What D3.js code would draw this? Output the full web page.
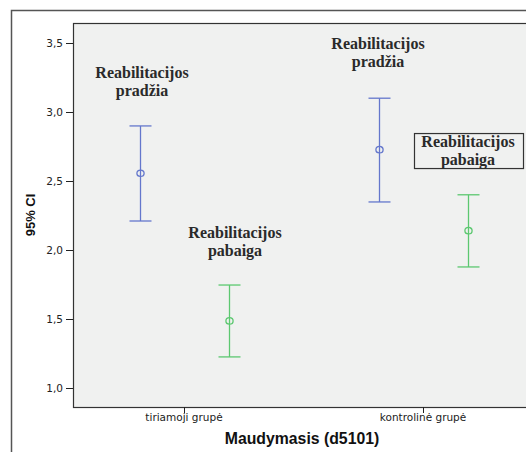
<!DOCTYPE html>
<html>
<head>
<meta charset="utf-8">
<script src="https://cdn.jsdelivr.net/npm/d3@7"></script>
<style>
  body { margin: 0; background: #fff; }
  svg { display: block; }
</style>
</head>
<body>
<svg id="chart" width="526" height="452"></svg>
<script>
// data //
const groups = ["tiriamoji grupė", "kontrolinė grupė"]
const series = ["Reabilitacijos pradžia", "Reabilitacijos pabaiga"]
const pradziaMean = [2.556, 2.727]
const pradziaLow = [2.21, 2.348]
const pradziaHigh = [2.899, 3.10]
const pabaigaMean = [1.486, 2.14]
const pabaigaLow = [1.225, 1.877]
const pabaigaHigh = [1.746, 2.40]
const yTicks = [1.0, 1.5, 2.0, 2.5, 3.0, 3.5]

const colors = ["#6477cc", "#5cc870"]

var svg = d3.select("#chart")

// outer frame
svg.append("path")
    .attr("d", "M11.5,452 L11.5,10.5 L526,10.5")
    .attr("fill", "none")
    .attr("stroke", "#555")
    .attr("stroke-width", 1.5)

const plot = { left: 73, top: 23, bottom: 407, right: 545 }

svg.append("rect")
    .attr("x", plot.left + 0.5)
    .attr("y", plot.top + 0.5)
    .attr("width", plot.right - plot.left)
    .attr("height", plot.bottom - plot.top)
    .attr("fill", "#f0f1f0")
    .attr("stroke", "#333")
    .attr("stroke-width", 1.2)

var y = d3.scaleLinear()
    .domain([0.862, 3.645])
    .range([plot.bottom, plot.top])

var x = d3.scalePoint()
    .domain(groups)
    .range([184, 423])

var xInner = d3.scalePoint()
    .domain(series)
    .range([-44.5, 44.5])

// y axis
var yAxis = svg.append("g")
yAxis.selectAll("line")
    .data(yTicks)
    .enter().append("line")
    .attr("x1", 66).attr("x2", plot.left)
    .attr("y1", d => Math.round(y(d)) + 0.5)
    .attr("y2", d => Math.round(y(d)) + 0.5)
    .attr("stroke", "#222")
yAxis.selectAll("text")
    .data(yTicks)
    .enter().append("text")
    .attr("x", 63)
    .attr("y", d => y(d))
    .attr("dy", "0.36em")
    .attr("text-anchor", "end")
    .attr("font-family", "DejaVu Sans, sans-serif")
    .attr("font-size", "10.5px")
    .attr("fill", "#222")
    .text(d => d3.format(".1f")(d).replace(".", ","))

// x axis
var xAxis = svg.append("g")
xAxis.selectAll("line")
    .data(groups)
    .enter().append("line")
    .attr("x1", d => x(d) + 0.5).attr("x2", d => x(d) + 0.5)
    .attr("y1", plot.bottom).attr("y2", plot.bottom + 6)
    .attr("stroke", "#222")
xAxis.selectAll("text")
    .data(groups)
    .enter().append("text")
    .attr("x", d => x(d))
    .attr("y", 421)
    .attr("text-anchor", "middle")
    .attr("font-family", "DejaVu Sans, sans-serif")
    .attr("font-size", "10.5px")
    .attr("fill", "#222")
    .text(d => d)

// axis titles
svg.append("text")
    .attr("x", 302)
    .attr("y", 444)
    .attr("text-anchor", "middle")
    .attr("font-family", "Liberation Sans, Arial, sans-serif")
    .attr("font-weight", "bold")
    .attr("font-size", "15.8px")
    .attr("fill", "#111")
    .text("Maudymasis (d5101)")

svg.append("text")
    .attr("transform", "translate(35,215) rotate(-90)")
    .attr("text-anchor", "middle")
    .attr("font-family", "Liberation Sans, Arial, sans-serif")
    .attr("font-weight", "bold")
    .attr("font-size", "13px")
    .attr("fill", "#111")
    .text("95% CI")

// error bars
var rows = []
groups.forEach((g, i) => {
    rows.push({ g: g, s: series[0], mean: pradziaMean[i], low: pradziaLow[i], high: pradziaHigh[i], c: colors[0] })
    rows.push({ g: g, s: series[1], mean: pabaigaMean[i], low: pabaigaLow[i], high: pabaigaHigh[i], c: colors[1] })
})

var bars = svg.append("g").selectAll("g")
    .data(rows)
    .enter().append("g")
    .attr("transform", d => "translate(" + (Math.round(x(d.g) + xInner(d.s)) + 0.5) + ",0)")

bars.append("line")
    .attr("y1", d => y(d.high)).attr("y2", d => y(d.low))
    .attr("stroke", d => d.c).attr("stroke-width", 1.3)
bars.append("line")
    .attr("x1", -11).attr("x2", 11)
    .attr("y1", d => y(d.high)).attr("y2", d => y(d.high))
    .attr("stroke", d => d.c).attr("stroke-width", 1.3)
bars.append("line")
    .attr("x1", -11).attr("x2", 11)
    .attr("y1", d => y(d.low)).attr("y2", d => y(d.low))
    .attr("stroke", d => d.c).attr("stroke-width", 1.3)
bars.append("ellipse")
    .attr("cy", d => y(d.mean))
    .attr("rx", 3.6).attr("ry", 3.2)
    .attr("fill", "none")
    .attr("stroke", d => d.c).attr("stroke-width", 1.3)

// annotations
var notes = [
    { x: 142, y: 3.246, lines: ["Reabilitacijos", "pradžia"], box: false },
    { x: 378, y: 3.46, lines: ["Reabilitacijos", "pradžia"], box: false },
    { x: 235, y: 2.087, lines: ["Reabilitacijos", "pabaiga"], box: false },
    { x: 468, y: 2.746, lines: ["Reabilitacijos", "pabaiga"], box: true }
]

notes.forEach(n => {
    var g = svg.append("g")
    if (n.box) {
        g.append("rect")
            .attr("x", 414.5).attr("y", y(n.y) - 13.5)
            .attr("width", 109).attr("height", 35)
            .attr("fill", "none")
            .attr("stroke", "#333")
            .attr("stroke-width", 1.2)
    }
    n.lines.forEach((t, i) => {
        g.append("text")
            .attr("x", n.x)
            .attr("y", y(n.y) + i * 18)
            .attr("text-anchor", "middle")
            .attr("font-family", "Liberation Serif, Times New Roman, serif")
            .attr("font-weight", "bold")
            .attr("font-size", "16px")
            .attr("fill", "#2a2a2a")
            .text(t)
    })
})
</script>
</body>
</html>
